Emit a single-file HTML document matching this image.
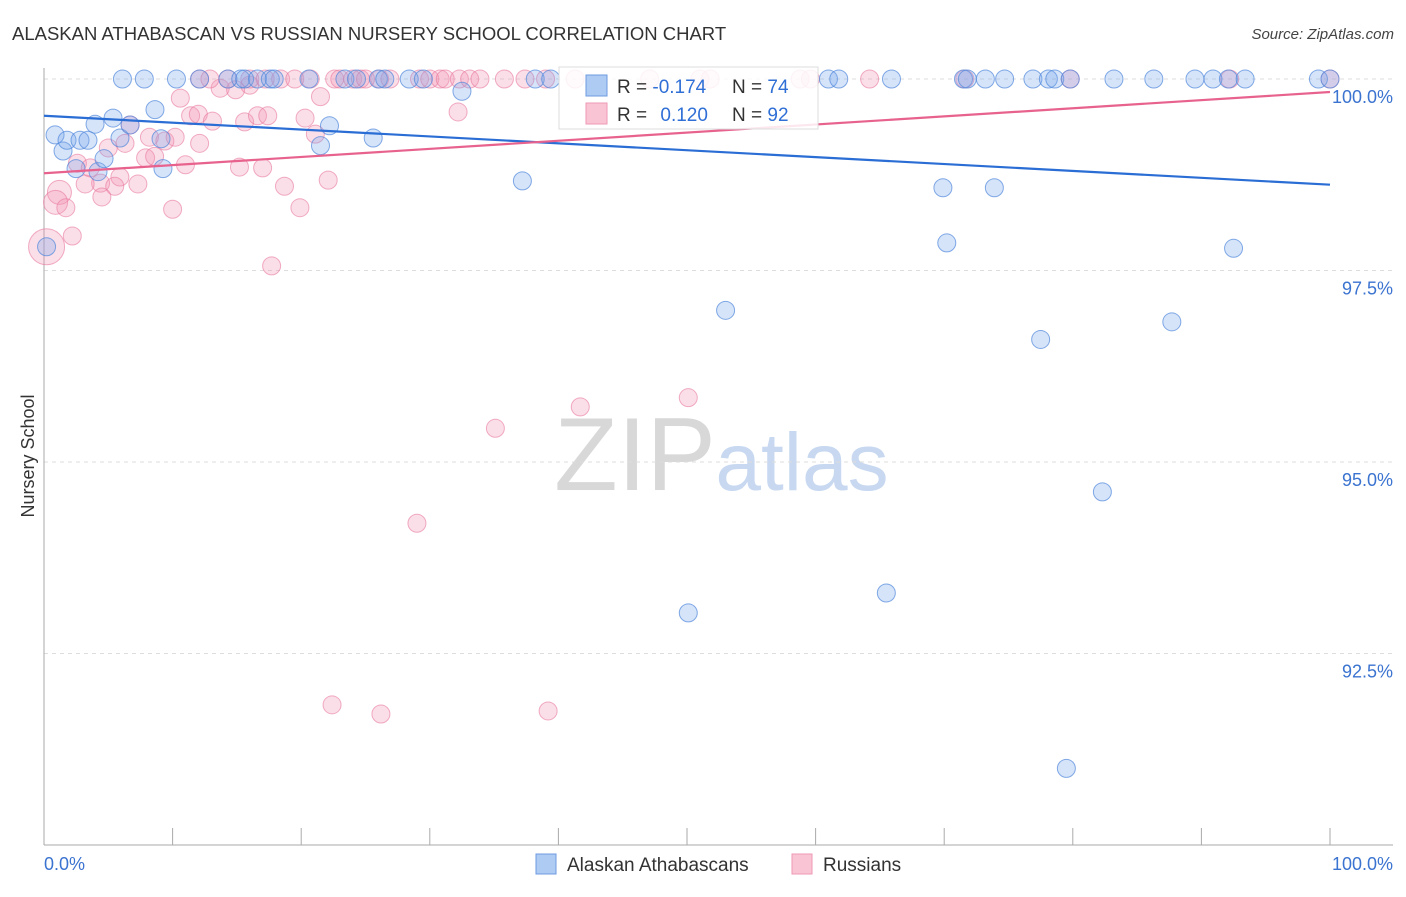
<!DOCTYPE html>
<html><head><meta charset="utf-8"><style>
body{margin:0;background:#fff;font-family:"Liberation Sans",sans-serif;}
svg text{font-family:"Liberation Sans",sans-serif;}
</style></head><body>
<svg id="chart" width="1406" height="892" viewBox="0 0 1406 892" xmlns="http://www.w3.org/2000/svg">
<text x="12" y="40" font-size="18.5" fill="#333">ALASKAN ATHABASCAN VS RUSSIAN NURSERY SCHOOL CORRELATION CHART</text>
<text x="1394" y="39" font-size="15" fill="#444" text-anchor="end" font-style="italic">Source: ZipAtlas.com</text>
<g>
<text x="635" y="490" font-size="104" fill="#d8d8d8" text-anchor="middle" font-family="Liberation Serif,serif">ZIP</text>
<text x="802" y="490" font-size="82" fill="#c7d8f0" text-anchor="middle">atlas</text>
</g>
<g id="grid"></g>
<g id="axes"></g>
<g id="pts"></g>
<g id="lines"></g>
<text transform="translate(34,456) rotate(-90)" font-size="18" fill="#333" text-anchor="middle">Nursery School</text>
<g>
<rect x="559" y="67" width="259" height="62" fill="#fff" fill-opacity="0.85" stroke="#ddd"/>
<rect x="586" y="75" width="21" height="21" fill="#aecbf3" stroke="#6d9be0"/>
<rect x="586" y="103" width="21" height="21" fill="#f9c4d4" stroke="#ee9ab5"/>
<text x="617" y="93" font-size="19" fill="#333">R = <tspan fill="#2f6fd6">-0.174</tspan></text>
<text x="732" y="93" font-size="19" fill="#333">N = <tspan fill="#2f6fd6">74</tspan></text>
<text x="617" y="121" font-size="19" fill="#333">R = <tspan fill="#2f6fd6" dx="8">0.120</tspan></text>
<text x="732" y="121" font-size="19" fill="#333">N = <tspan fill="#2f6fd6">92</tspan></text>
</g>
<g>
<rect x="536" y="854" width="20" height="20" fill="#aecbf3" stroke="#6d9be0"/>
<text x="567" y="871" font-size="19" fill="#333">Alaskan Athabascans</text>
<rect x="792" y="854" width="20" height="20" fill="#f9c4d4" stroke="#ee9ab5"/>
<text x="823" y="871" font-size="19" fill="#333">Russians</text>
</g>
</svg>
<script>
const blueX=[0.86,1.48,1.79,2.8,3.42,2.49,4.2,3.97,4.67,5.37,5.91,6.69,8.63,9.1,9.25,22.2,21.5,25.6,32.5,37.2,53.0,69.9,73.9,70.2,92.5,87.7,77.5,82.3,50.1,65.5,79.5,0.2,
6.1,7.8,10.3,12.1,14.3,15.3,15.6,16.6,17.6,17.9,20.6,23.4,24.3,26.0,26.5,28.4,29.5,38.2,39.4,61.0,61.8,65.9,71.5,71.8,73.2,74.7,76.9,78.1,78.6,79.8,83.2,86.3,89.5,90.9,92.1,93.4,99.1,100];
const blueY=[99.27,99.06,99.2,99.2,99.2,98.83,98.79,99.41,98.96,99.49,99.23,99.4,99.6,99.22,98.83,99.39,99.13,99.23,99.84,98.67,96.98,98.58,98.58,97.86,97.79,96.83,96.6,94.61,93.03,93.29,91.0,97.81,
100,100,100,100,100,100,100,100,100,100,100,100,100,100,100,100,100,100,100,100,100,100,100,100,100,100,100,100,100,100,100,100,100,100,100,100,100,100];
const pinkX=[10.6,13.7,14.9,16.0,21.5,32.2,11.4,12.0,13.1,15.6,16.6,17.4,20.3,21.1,6.7,8.2,9.4,10.2,12.1,5.0,6.3,7.9,8.6,11.0,15.2,17.0,2.6,3.6,5.9,4.4,5.5,7.3,3.2,18.7,22.1,1.2,4.5,0.9,1.7,10.0,19.9,2.2,17.7,0.2,41.7,50.1,35.1,29.0,22.4,26.2,39.2,
12.1,12.9,14.3,16.0,17.2,18.4,19.5,20.7,22.6,23.0,24.0,24.6,25.0,26.1,26.9,29.2,30.0,30.8,31.2,32.3,33.1,33.9,35.8,37.4,39.0,41.3,47.1,51.0,51.8,58.8,59.6,64.2,71.6,79.8,92.2,100];
const pinkY=[99.75,99.88,99.86,99.92,99.77,99.57,99.52,99.54,99.45,99.44,99.52,99.52,99.49,99.28,99.4,99.24,99.19,99.24,99.16,99.1,99.16,98.97,98.99,98.88,98.85,98.84,98.9,98.84,98.72,98.64,98.6,98.63,98.63,98.6,98.68,98.52,98.46,98.39,98.32,98.3,98.32,97.95,97.56,97.81,95.72,95.84,95.44,94.2,91.83,91.71,91.75,
100,100,100,100,100,100,100,100,100,100,100,100,100,100,100,100,100,100,100,100,100,100,100,100,100,100,100,100,100,100,100,100,100,100,100,100];
const blueTrend=[99.52,98.62];
const pinkTrend=[98.77,99.83];
const yTicks=[100,97.5,95,92.5];
const yTickLabels=["100.0%","97.5%","95.0%","92.5%"];
const xTicks=[0,10,20,30,40,50,60,70,80,90,100];

const NS="http://www.w3.org/2000/svg";
const X=v=>44+v*12.86;
const Y=v=>79+(100-v)*76.6;
function mk(tag,attrs,parent){const e=document.createElementNS(NS,tag);for(const k in attrs)e.setAttribute(k,attrs[k]);document.getElementById(parent).appendChild(e);return e;}
yTicks.forEach((t,i)=>{
 const l=mk('line',{x1:44,x2:1393,y1:Y(t),y2:Y(t),stroke:'#ddd','stroke-dasharray':'4,4'},'grid');
 
 
 const tx=mk('text',{x:1393,y:Y(t)+24,'font-size':18,fill:'#3b73d0','text-anchor':'end'},'grid');
 tx.textContent=yTickLabels[i];
 
 
});
let a=mk('line',{x1:44,x2:44,y1:68,y2:845,stroke:'#aaa'},'axes');


a=mk('line',{x1:44,x2:1393,y1:845,y2:845,stroke:'#aaa'},'axes');


xTicks.forEach(t=>{
 const l=mk('line',{x1:X(t),x2:X(t),y1:828,y2:845,stroke:'#aaa'},'axes');
 
 
});
let t0=mk('text',{x:44,y:870,'font-size':18,fill:'#3b73d0'},'axes');t0.textContent='0.0%';


let t1=mk('text',{x:1393,y:870,'font-size':18,fill:'#3b73d0','text-anchor':'end'},'axes');t1.textContent='100.0%';


function radius(x,y,pink){if(pink&&x<0.5&&y<98)return 18;if(pink&&x<1.5&&y<98.6&&y>98.3)return 12;return 9;}
pinkX.forEach((x,i)=>{
 const c=mk('circle',{cx:X(x),cy:Y(pinkY[i]),r:radius(x,pinkY[i],true),fill:'rgba(242,150,180,0.3)',stroke:'rgba(232,120,158,0.6)'},'pts');
 
 
});
blueX.forEach((x,i)=>{
 const c=mk('circle',{cx:X(x),cy:Y(blueY[i]),r:9,fill:'rgba(120,165,235,0.3)',stroke:'rgba(80,135,220,0.7)'},'pts');
 
 
});
let bl=mk('line',{x1:X(0),x2:X(100),y1:Y(blueTrend[0]),y2:Y(blueTrend[1]),stroke:'#2a6dd4','stroke-width':2.2},'lines');


let pl=mk('line',{x1:X(0),x2:X(100),y1:Y(pinkTrend[0]),y2:Y(pinkTrend[1]),stroke:'#e8628e','stroke-width':2.2},'lines');


</script>
</body></html>
